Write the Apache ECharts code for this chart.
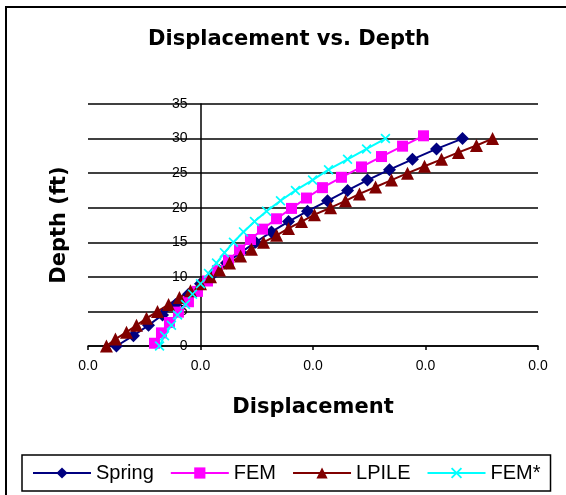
<!DOCTYPE html>
<html>
<head>
<meta charset="utf-8">
<script src="https://cdn.jsdelivr.net/npm/echarts@6/dist/echarts.min.js"></script>
<style>
html,body{margin:0;padding:0;background:#fff;}
#chart{width:566px;height:495px;}
</style>
</head>
<body>
<div id="chart"></div>
<script>
// Depths (ft)
const depthStep15 = [0,1.5,3,4.5,6,7.5,9,10.5,12,13.5,15,16.5,18,19.5,21,22.5,24,25.5,27,28.5,30];
const depthFEM = [0.4,1.9,3.4,4.9,6.4,7.9,9.4,10.9,12.4,13.9,15.4,16.9,18.4,19.9,21.4,22.9,24.4,25.9,27.4,28.9,30.4];
const depthStep1 = [0,1,2,3,4,5,6,7,8,9,10,11,12,13,14,15,16,17,18,19,20,21,22,23,24,25,26,27,28,29,30];

// Displacements
const springDisp = [-0.00747,-0.00596,-0.00462,-0.00338,-0.00222,-0.00107,0.0000,0.00116,0.00231,0.00356,0.00489,0.00631,0.00782,0.00951,0.01129,0.01307,0.01484,0.0168,0.01884,0.02098,0.02329];
const femDisp = [-0.00409,-0.00347,-0.00276,-0.00196,-0.00107,-0.00027,0.00062,0.00151,0.00249,0.00347,0.00444,0.00551,0.00676,0.00809,0.00942,0.01084,0.01253,0.01431,0.01609,0.01796,0.01982];
const lpileDisp = [-0.00836,-0.00756,-0.00658,-0.00569,-0.0048,-0.00382,-0.00284,-0.00187,-0.00089,0,0.00089,0.00169,0.00258,0.00356,0.00453,0.0056,0.00676,0.00782,0.00898,0.01013,0.01156,0.01289,0.01413,0.01556,0.01698,0.0184,0.01991,0.02142,0.02293,0.02453,0.02596];
const femStarDisp = [-0.00364,-0.0032,-0.00258,-0.00204,-0.00133,-0.00071,0,0.00071,0.00142,0.00213,0.00293,0.00382,0.0048,0.00587,0.00711,0.00844,0.00996,0.01138,0.01307,0.01476,0.01644];

const seriesNames = ['Spring','FEM','LPILE','FEM*'];

function pairs(xs, ys){ return xs.map((x,i)=>[x, ys[i]]); }

const xMark = 'path://M0,1.2L1.2,0L5,3.8L8.8,0L10,1.2L6.2,5L10,8.8L8.8,10L5,6.2L1.2,10L0,8.8L3.8,5Z';

const chart = echarts.init(document.getElementById('chart'), null, {renderer:'canvas'});
chart.setOption({
  animation:false,
  backgroundColor:'#fff',
  graphic:[
    {type:'rect', shape:{x:6,y:7,width:800,height:800}, style:{fill:'none', stroke:'#000', lineWidth:2}, silent:true},
    {type:'text', x:289, y:40, style:{text:'Displacement vs. Depth', font:'bold 21px "DejaVu Sans"', fill:'#000', align:'center', verticalAlign:'middle'}},
    {type:'text', x:60, y:225, rotation:Math.PI/2, style:{text:'Depth (ft)', font:'bold 21px "DejaVu Sans"', fill:'#000', align:'center', verticalAlign:'middle'}}
  ],
  grid:{left:88, right:28, top:104, bottom:149, outerBoundsMode:'none', containLabel:false},
  xAxis:{
    type:'value', min:-0.01, max:0.03, interval:0.01,
    name:'Displacement', nameLocation:'middle', nameGap:51,
    nameTextStyle:{fontFamily:'DejaVu Sans', fontWeight:'bold', fontSize:21, color:'#000'},
    axisLine:{show:true, onZero:false, lineStyle:{color:'#000', width:1.5}},
    axisTick:{show:true, length:4, lineStyle:{color:'#000', width:1.5}},
    axisLabel:{margin:13, color:'#000', fontFamily:'Liberation Sans', fontSize:14,
      formatter:function(v){ return (Math.round(v*10)/10 + 0).toFixed(1); }},
    splitLine:{show:false}
  },
  yAxis:{
    type:'value', min:0, max:35, interval:5,
    offset:-112.5,
    axisLine:{show:true, onZero:false, lineStyle:{color:'#000', width:1.5}},
    axisTick:{show:false},
    axisLabel:{margin:13, color:'#000', fontFamily:'Liberation Sans', fontSize:14},
    splitLine:{show:true, lineStyle:{color:'#000', width:1.5}}
  },
  legend:{
    left:22, top:455, padding:[8,10,8,10],
    borderColor:'#000', borderWidth:1.5,
    itemWidth:58, itemHeight:14, itemGap:16,
    textStyle:{fontFamily:'Liberation Sans', fontSize:20, color:'#000'},
    data:seriesNames
  },
  series:[
    {name:'Spring', type:'line', data:pairs(springDisp, depthStep15),
     symbol:'diamond', symbolSize:13, color:'#000080',
     lineStyle:{color:'#000080', width:2}, itemStyle:{color:'#000080'}},
    {name:'FEM', type:'line', data:pairs(femDisp, depthFEM),
     symbol:'rect', symbolSize:11, color:'#FF00FF',
     lineStyle:{color:'#FF00FF', width:2}, itemStyle:{color:'#FF00FF'}},
    {name:'LPILE', type:'line', data:pairs(lpileDisp, depthStep1),
     symbol:'triangle', symbolSize:13, color:'#800000',
     lineStyle:{color:'#800000', width:2}, itemStyle:{color:'#800000'}},
    {name:'FEM*', type:'line', data:pairs(femStarDisp, depthStep15),
     symbol:xMark, symbolSize:10, color:'#00FFFF',
     lineStyle:{color:'#00FFFF', width:2}, itemStyle:{color:'#00FFFF'}}
  ]
});
</script>
</body>
</html>
